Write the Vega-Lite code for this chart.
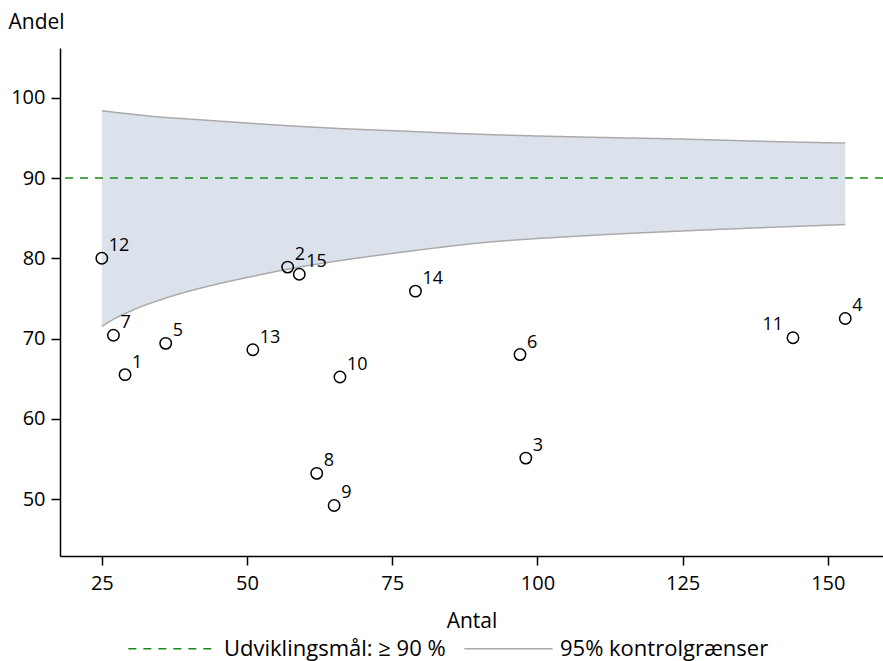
{
  "$schema": "https://vega.github.io/schema/vega-lite/v6.json",
  "width": 823,
  "height": 508,
  "autosize": "none",
  "padding": {"left": 60, "top": 48, "right": 0, "bottom": 105},
  "background": "white",
  "config": {
    "font": "Open Sans",
    "view": {"stroke": null},
    "axis": {
      "grid": false,
      "domainColor": "black",
      "domainWidth": 1.5,
      "tickColor": "black",
      "tickWidth": 1.5,
      "tickSize": 9,
      "labelColor": "black",
      "labelFontSize": 20,
      "titleColor": "black",
      "titleFontSize": 21,
      "titleFontWeight": "normal"
    }
  },
  "datasets": {
    "punkter": [
      {"nr": 1, "antal": 29, "andel": 65.5},
      {"nr": 2, "antal": 57, "andel": 78.9},
      {"nr": 3, "antal": 98, "andel": 55.1},
      {"nr": 4, "antal": 153, "andel": 72.5},
      {"nr": 5, "antal": 36, "andel": 69.4},
      {"nr": 6, "antal": 97, "andel": 68.0},
      {"nr": 7, "antal": 27, "andel": 70.4},
      {"nr": 8, "antal": 62, "andel": 53.2},
      {"nr": 9, "antal": 65, "andel": 49.2},
      {"nr": 10, "antal": 66, "andel": 65.2},
      {"nr": 11, "antal": 144, "andel": 70.1},
      {"nr": 12, "antal": 25, "andel": 80.0},
      {"nr": 13, "antal": 51, "andel": 68.6},
      {"nr": 14, "antal": 79, "andel": 75.9},
      {"nr": 15, "antal": 59, "andel": 78.0}
    ],
    "tragt": [
      {"serie": "95% kontrolgrænser", "antal": 25, "nedre": 71.5, "oevre": 98.4},
      {"serie": "95% kontrolgrænser", "antal": 27, "nedre": 72.4, "oevre": 98.2},
      {"serie": "95% kontrolgrænser", "antal": 29, "nedre": 73.1, "oevre": 98.05},
      {"serie": "95% kontrolgrænser", "antal": 31.5, "nedre": 73.9, "oevre": 97.85},
      {"serie": "95% kontrolgrænser", "antal": 35, "nedre": 74.8, "oevre": 97.6},
      {"serie": "95% kontrolgrænser", "antal": 40, "nedre": 75.9, "oevre": 97.35},
      {"serie": "95% kontrolgrænser", "antal": 45, "nedre": 76.8, "oevre": 97.1},
      {"serie": "95% kontrolgrænser", "antal": 50, "nedre": 77.6, "oevre": 96.85},
      {"serie": "95% kontrolgrænser", "antal": 57.5, "nedre": 78.7, "oevre": 96.5},
      {"serie": "95% kontrolgrænser", "antal": 65, "nedre": 79.6, "oevre": 96.2},
      {"serie": "95% kontrolgrænser", "antal": 75, "nedre": 80.6, "oevre": 95.9},
      {"serie": "95% kontrolgrænser", "antal": 90, "nedre": 81.9, "oevre": 95.45},
      {"serie": "95% kontrolgrænser", "antal": 108, "nedre": 82.8, "oevre": 95.1},
      {"serie": "95% kontrolgrænser", "antal": 125, "nedre": 83.4, "oevre": 94.85},
      {"serie": "95% kontrolgrænser", "antal": 140, "nedre": 83.85, "oevre": 94.55},
      {"serie": "95% kontrolgrænser", "antal": 153, "nedre": 84.2, "oevre": 94.35}
    ],
    "maal": [
      {"serie": "Udviklingsmål: ≥ 90 %", "andel": 90}
    ]
  },
  "layer": [
    {
      "data": {"name": "tragt"},
      "mark": {"type": "area", "color": "#dbe2eb", "opacity": 1, "interpolate": "monotone"},
      "encoding": {
        "x": {
          "field": "antal", "type": "quantitative",
          "scale": {"domain": [17.8, 159.5], "nice": false, "zero": false},
          "axis": {"values": [25, 50, 75, 100, 125, 150], "title": "Antal", "titleBaseline": "alphabetic", "titleY": 71, "labelPadding": 8}
        },
        "y": {
          "field": "nedre", "type": "quantitative",
          "scale": {"domain": [42.9, 106.2], "nice": false, "zero": false},
          "axis": {"values": [50, 60, 70, 80, 90, 100], "title": "Andel", "titleAngle": 0, "titleAlign": "left", "titleBaseline": "alphabetic", "titleX": -52, "titleY": -20, "labelPadding": 6}
        },
        "y2": {"field": "oevre"}
      }
    },
    {
      "data": {"name": "maal"},
      "mark": {"type": "rule", "strokeWidth": 1.7},
      "encoding": {
        "y": {"field": "andel", "type": "quantitative"},
        "color": {
          "field": "serie", "type": "nominal",
          "scale": {"domain": ["Udviklingsmål: ≥ 90 %", "95% kontrolgrænser"], "range": ["#178a17", "#aaaaaa"]},
          "legend": {
            "title": null, "orient": "none", "direction": "horizontal",
            "legendX": 67, "legendY": 555,
            "symbolType": "stroke", "symbolSize": 7800, "symbolStrokeWidth": 1.7,
            "labelFontSize": 22, "labelColor": "black", "labelOffset": 6, "columnPadding": 14, "labelLimit": 0
          }
        },
        "strokeDash": {
          "field": "serie", "type": "nominal",
          "scale": {"domain": ["Udviklingsmål: ≥ 90 %", "95% kontrolgrænser"], "range": [[8, 7], [1, 0]]},
          "legend": {
            "title": null, "orient": "none", "direction": "horizontal",
            "legendX": 67, "legendY": 555,
            "symbolType": "stroke", "symbolSize": 7800, "symbolStrokeWidth": 1.7,
            "labelFontSize": 22, "labelColor": "black", "labelOffset": 6, "columnPadding": 14, "labelLimit": 0
          }
        }
      }
    },
    {
      "data": {"name": "tragt"},
      "transform": [{"fold": ["nedre", "oevre"], "as": ["graense", "vaerdi"]}],
      "mark": {"type": "line", "strokeWidth": 1.5, "interpolate": "monotone"},
      "encoding": {
        "x": {"field": "antal", "type": "quantitative"},
        "y": {"field": "vaerdi", "type": "quantitative"},
        "detail": {"field": "graense"},
        "color": {"field": "serie", "type": "nominal"},
        "strokeDash": {"field": "serie", "type": "nominal"}
      }
    },
    {
      "data": {"name": "punkter"},
      "mark": {"type": "point", "shape": "circle", "filled": false, "stroke": "black", "strokeWidth": 1.5, "size": 130, "opacity": 1},
      "encoding": {
        "x": {"field": "antal", "type": "quantitative"},
        "y": {"field": "andel", "type": "quantitative"}
      }
    },
    {
      "data": {"name": "punkter"},
      "transform": [{"filter": "datum.nr != 11"}],
      "mark": {"type": "text", "align": "left", "baseline": "alphabetic", "dx": 7, "dy": -7, "fontSize": 18, "color": "black"},
      "encoding": {
        "x": {"field": "antal", "type": "quantitative"},
        "y": {"field": "andel", "type": "quantitative"},
        "text": {"field": "nr", "type": "nominal"}
      }
    },
    {
      "data": {"name": "punkter"},
      "transform": [{"filter": "datum.nr == 11"}],
      "mark": {"type": "text", "align": "right", "baseline": "alphabetic", "dx": -10, "dy": -8, "fontSize": 18, "color": "black"},
      "encoding": {
        "x": {"field": "antal", "type": "quantitative"},
        "y": {"field": "andel", "type": "quantitative"},
        "text": {"field": "nr", "type": "nominal"}
      }
    }
  ]
}
